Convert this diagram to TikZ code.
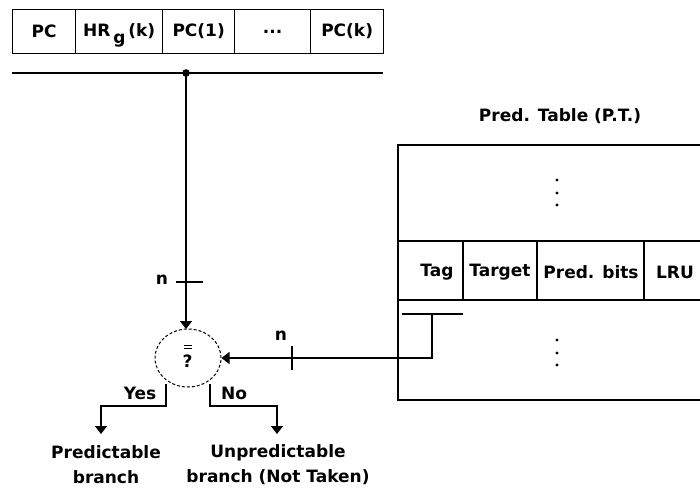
\documentclass[tikz,border=0pt]{standalone}
\usepackage{fontspec}
\setmainfont{DejaVu Sans}
\usetikzlibrary{arrows.meta,shapes.geometric}
\newcommand\lblfont{\fontsize{17}{20}\bfseries\selectfont}
\begin{document}
\begin{tikzpicture}[x=1pt,y=-1pt,line width=1.3pt,
  cell/.style={draw, minimum height=44pt, inner sep=0pt, anchor=north west, font=\lblfont},
  lbl/.style={font=\lblfont, inner sep=1pt},
  arr/.style={-{Triangle[width=12pt,length=8pt]}}]
\useasboundingbox (0,0) rectangle (700,493);
% register
\node[cell, minimum width=63pt] (pc) at (12,9) {PC};
\node[cell, minimum width=87pt] (hr) at (75,9) {HR\smash{\raisebox{-7pt}{\,g}}\,(k)};
\node[cell, minimum width=72pt] (pc1) at (162,9) {PC(1)};
\node[cell, minimum width=76pt] (dots) at (234,9) {...};
\node[cell, minimum width=73pt] (pck) at (310,9) {PC(k)};
% bus
\coordinate (busl) at (12,73);
\coordinate (busr) at (383,73);
\coordinate (tap) at (186,73);
\draw (busl) -- (busr);
\fill (tap) circle (3.8pt);
% comparator
\node[draw, ellipse, densely dashed, line width=1pt, minimum width=66pt, minimum height=58pt, inner sep=0pt] (cmp) at (188,358) {};
\node[lbl] (q) at (187.5,361) {?};
\draw[line width=1pt] (183.5,345) -- (191.5,345) (183.5,348.5) -- (191.5,348.5);
% vertical connector
\draw[arr] (tap) -- (186,329);
\coordinate (t1a) at (176,282);
\coordinate (t1b) at (203,282);
\draw (t1a) -- (t1b);
\node[lbl] (n1) at (162,280) {n};
% table
\node[lbl] (pttitle) at (560,116) {Pred. Table (P.T.)};
\coordinate (tl) at (398,145);
\coordinate (bl) at (398,400);
\draw (700,145) -- (tl) -- (bl) -- (700,400);
\draw (398,241) -- (700,241) (398,300) -- (700,300);
\draw (463,241) -- (463,300) (537,241) -- (537,300) (644,241) -- (644,300);
\node[lbl] (tag) at (437,272) {Tag};
\node[lbl] (target) at (500,272) {Target};
\node[lbl] (pbits) at (591,272) {Pred. bits};
\node[lbl] (lru) at (675,272) {LRU};
\foreach \y in {180,193,205,340,353,365} \fill (557,\y) circle (1.6pt);
% tag tap
\coordinate (tagl) at (402,314);
\coordinate (tagr) at (463,314);
\coordinate (tagtap) at (432,314);
\draw (tagl) -- (tagr);
\draw[arr] (tagtap) |- (cmp.east);
\draw (292,346) -- (292,370);
\node[lbl] (n2) at (281,336) {n};
% outputs
\coordinate (ya) at (166,384);
\coordinate (na) at (210,384);
\node[lbl] (yes) at (140,393) {Yes};
\node[lbl] (no) at (234,393) {No};
\node[lbl, align=center] (pred) at (106,465) {Predictable\\[5pt]branch};
\node[lbl, align=center] (unpred) at (278,465) {Unpredictable\\[5pt]branch (Not Taken)};
\draw[arr] (ya) -- (166,406) -- (101,406) -- (101,434);
\draw[arr] (na) -- (210,406) -- (277,406) -- (277,434);
\end{tikzpicture}
\end{document}
